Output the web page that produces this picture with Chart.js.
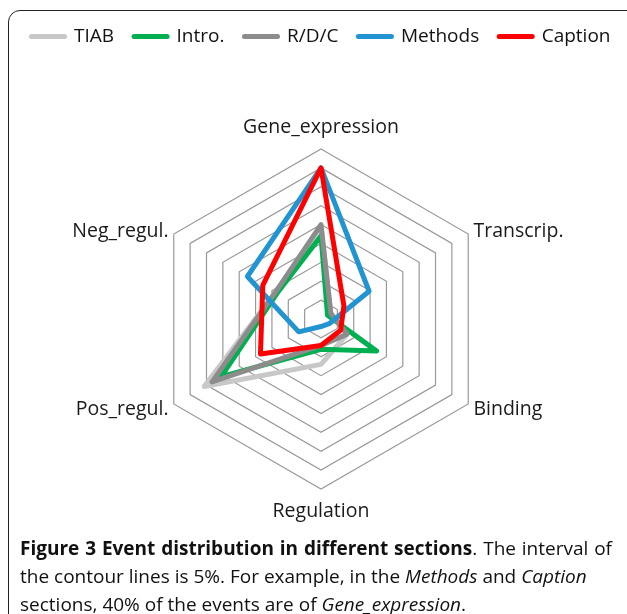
<!DOCTYPE html>
<html>
<head>
<meta charset="utf-8">
<script src="https://cdn.jsdelivr.net/npm/chart.js@4.4.1/dist/chart.umd.min.js"></script>
<style>
  html, body { margin: 0; padding: 0; background: #fff; }
  body { width: 627px; height: 614px; position: relative; overflow: hidden; font-family: "Open Sans", sans-serif; }
  #frame { position: absolute; left: 8px; top: 10px; width: 700px; height: 700px;
           border: 1.5px solid #222; border-top-left-radius: 12px; }
  #wrap { position: absolute; left: -20px; top: 0; width: 682px; height: 614px; }
  #caption { position: absolute; left: 20px; top: 534px; width: 592px; font-size: 19px;
             line-height: 28px; color: #111; white-space: nowrap; }
  #caption .first { text-align: justify; text-align-last: justify; }
</style>
</head>
<body>
<div id="frame"></div>
<div id="wrap"><canvas id="radar-chart"></canvas></div>
<div id="caption">
  <div class="first"><b>Figure 3 Event distribution in different sections</b>. The interval of</div>
  <div>the contour lines is 5%. For example, in the <i>Methods</i> and <i>Caption</i></div>
  <div>sections, 40% of the events are of <i>Gene_expression</i>.</div>
</div>
<script>
// event types (clockwise from top)
var event_types = ['Gene_expression', 'Transcrip.', 'Binding', 'Regulation', 'Pos_regul.', 'Neg_regul.'];
var section_names = ['TIAB', 'Intro.', 'R/D/C', 'Methods', 'Caption'];
var section_colors = ['#c8c8c8', '#00b050', '#8c8c8c', '#2394d2', '#ff0000'];

// % of events per section
var tiab    = [24.5, 3, 8, 12, 35.7, 14];
var intro   = [22, 2, 17, 8, 30.5, 13.5];
var rdc     = [25, 3, 8, 7, 33.3, 14];
var methods = [40, 14.7, 2.5, 2, 6.8, 22.5];
var caption = [40, 7, 6, 7, 18.5, 17.8];

var section_values = [tiab, intro, rdc, methods, caption];

// scale: contour every 5%
var scale_min = 0, scale_max = 45, scale_step = 5;

var chart;

function buildDatasets(){
  var ds = [];
  for(var i=0;i<section_names.length;i++){
    ds.push({
      label: section_names[i],
      data: section_values[i],
      borderColor: section_colors[i],
      backgroundColor: section_colors[i],
      borderWidth: 5,
      borderJoinStyle: 'round',
      fill: false,
      pointRadius: 0,
      pointHoverRadius: 0,
      pointBorderWidth: 5,
      order: section_names.length - i   // Caption drawn on top
    });
  }
  return ds;
}

// leaves room between the legend and the plot
var legendSpacer = {
  id: 'legendSpacer',
  beforeInit: function(c){
    var origFit = c.legend.fit;
    c.legend.fit = function(){
      origFit.bind(c.legend)();
      this.height += 71;
    };
  }
};

function drawRadarChart(){
  chart = new Chart(document.getElementById('radar-chart'), {
    type: 'radar',
    data: {
      labels: event_types,
      datasets: buildDatasets()
    },
    plugins: [legendSpacer],
    options: {
      responsive: true,
      maintainAspectRatio: false,
      animation: false,
      layout: { padding: { left: 0, right: 0, top: 7, bottom: 103 } },
      plugins: {
        tooltip: { enabled: false },
        legend: {
          position: 'top',
          labels: {
            usePointStyle: true,
            pointStyle: 'line',
            pointStyleWidth: 33,
            padding: 20,
            color: '#111',
            font: { family: 'Open Sans', size: 19 },
            sort: function(a, b){ return a.datasetIndex - b.datasetIndex; },
            generateLabels: function(c){
              var items = Chart.defaults.plugins.legend.labels.generateLabels(c);
              items.forEach(function(it){ it.lineCap = 'round'; it.lineWidth = 5; });
              return items;
            }
          }
        }
      },
      scales: {
        r: {
          min: scale_min,
          max: scale_max,
          ticks: { display: false, stepSize: scale_step },
          angleLines: { display: false },
          grid: { color: '#999999', lineWidth: 1.2 },
          pointLabels: {
            color: '#1a1a1a',
            font: function(ctx){
              // Binding / Pos_regul. sit a touch below their vertex
              var lh = (ctx.index === 2 || ctx.index === 4) ? '4px' : 0;
              return { family: 'Open Sans', size: 19.5, lineHeight: lh };
            },
            padding: function(ctx){
              return (ctx.index === 0 || ctx.index === 3) ? 22 : 6;
            }
          }
        }
      }
    }
  });
}

drawRadarChart();
</script>
</body>
</html>
